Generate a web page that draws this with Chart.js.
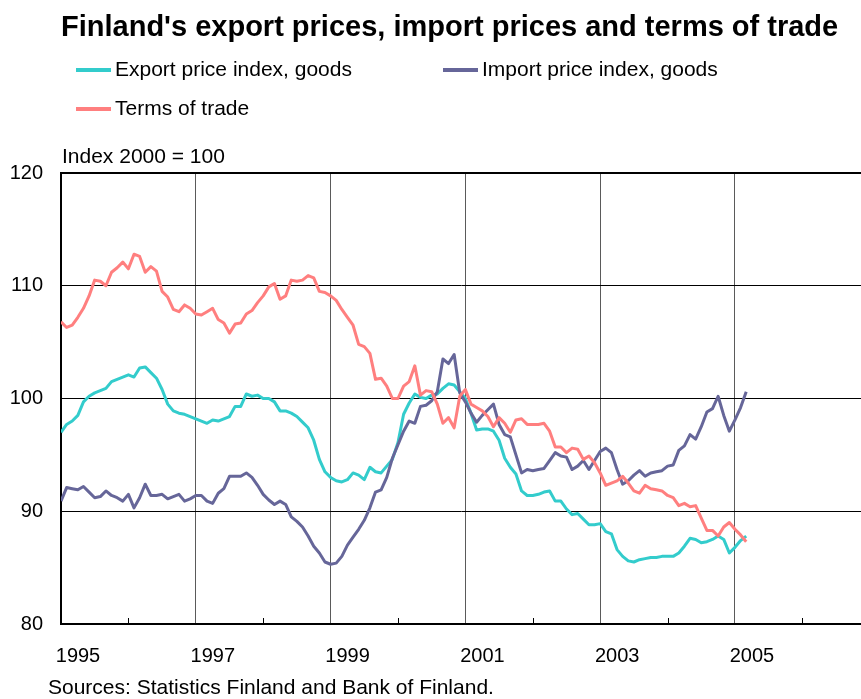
<!DOCTYPE html>
<html>
 <head>
  <meta charset="utf-8" />
  <title>Finland's export prices, import prices and terms of trade</title>
  <style>
   body { margin: 0; background: #fff; }
  </style>
 </head>
 <body>
  <canvas id="tradeChart" width="861" height="699"></canvas>

  <script src="https://cdn.jsdelivr.net/npm/chart.js@4/dist/chart.umd.min.js"></script>
  <script>

// monthly series, January 1995 .. March 2005, index 2000 = 100
const firstYear = 1995;

const exportPrices = [
  97.0, 97.7, 98.0, 98.5, 99.7, 100.2, 100.5, 100.7, 100.9, 101.5, 101.7, 101.9,
  102.1, 101.9, 102.7, 102.8, 102.3, 101.8, 100.8, 99.5, 98.9, 98.7, 98.6, 98.4,
  98.2, 98.0, 97.8, 98.1, 98.0, 98.2, 98.4, 99.3, 99.3, 100.4, 100.2, 100.3,
  100.0, 100.0, 99.7, 98.9, 98.9, 98.7, 98.4, 97.9, 97.4, 96.3, 94.6, 93.5,
  93.0, 92.7, 92.6, 92.8, 93.4, 93.2, 92.8, 93.9, 93.5, 93.4, 94.0, 94.6,
  96.1, 98.6, 99.6, 100.4, 100.1, 100.0, 100.3, 100.4, 100.9, 101.3, 101.2, 100.6,
  100.0, 98.7, 97.2, 97.3, 97.3, 97.1, 96.3, 94.7, 93.9, 93.3, 91.8, 91.4,
  91.4, 91.5, 91.7, 91.8, 90.9, 90.9, 90.2, 89.7, 89.8, 89.3, 88.8, 88.8,
  88.9, 88.2, 88.0, 86.6, 86.0, 85.6, 85.5, 85.7, 85.8, 85.9, 85.9, 86.0,
  86.0, 86.0, 86.3, 86.9, 87.6, 87.5, 87.2, 87.3, 87.5, 87.8, 87.5, 86.3,
  86.8, 87.4, 87.8
];

const importPrices = [
  90.9, 92.1, 92.0, 91.9, 92.2, 91.7, 91.2, 91.3, 91.8, 91.4, 91.2, 90.9,
  91.5, 90.3, 91.2, 92.4, 91.4, 91.4, 91.5, 91.1, 91.3, 91.5, 90.9, 91.1,
  91.4, 91.4, 90.9, 90.7, 91.6, 92.0, 93.1, 93.1, 93.1, 93.4, 93.0, 92.3,
  91.5, 91.0, 90.6, 90.9, 90.6, 89.5, 89.1, 88.6, 87.8, 86.9, 86.3, 85.5,
  85.3, 85.4, 86.0, 87.0, 87.7, 88.4, 89.2, 90.3, 91.7, 91.9, 93.0, 94.7,
  95.9, 97.1, 98.0, 97.8, 99.3, 99.4, 99.8, 100.6, 103.5, 103.1, 103.9, 100.5,
  99.7, 98.7, 97.9, 98.5, 99.0, 99.5, 97.7, 96.8, 96.6, 95.0, 93.4, 93.7,
  93.6, 93.7, 93.8, 94.5, 95.2, 94.9, 94.8, 93.7, 94.0, 94.5, 93.7, 94.5,
  95.3, 95.6, 95.2, 93.7, 92.4, 92.7, 93.2, 93.6, 93.1, 93.4, 93.5, 93.6,
  94.0, 94.1, 95.4, 95.8, 96.8, 96.4, 97.5, 98.8, 99.1, 100.2, 98.5, 97.1,
  98.1, 99.2, 100.6
];

const termsOfTrade = [
  106.8, 106.3, 106.5, 107.2, 108.0, 109.1, 110.5, 110.4, 110.0, 111.2, 111.6, 112.1,
  111.5, 112.8, 112.6, 111.2, 111.7, 111.3, 109.5, 109.0, 107.9, 107.7, 108.3, 108.0,
  107.5, 107.4, 107.7, 108.0, 107.0, 106.7, 105.8, 106.6, 106.7, 107.5, 107.8, 108.5,
  109.1, 109.9, 110.2, 108.8, 109.1, 110.5, 110.4, 110.5, 110.9, 110.7, 109.5, 109.4,
  109.1, 108.7, 107.9, 107.2, 106.5, 104.8, 104.6, 104.0, 101.7, 101.8, 101.1, 100.0,
  100.0, 101.1, 101.5, 102.9, 100.3, 100.7, 100.6, 99.5, 97.8, 98.3, 97.4, 100.2,
  100.8, 99.5, 99.2, 98.9, 98.4, 97.5, 98.3, 97.8, 97.0, 98.1, 98.2, 97.7,
  97.7, 97.7, 97.8, 97.1, 95.7, 95.7, 95.2, 95.6, 95.5, 94.6, 94.9, 94.3,
  93.4, 92.3, 92.5, 92.7, 93.1, 92.5, 91.8, 91.6, 92.3, 92.0, 91.9, 91.8,
  91.4, 91.2, 90.5, 90.7, 90.4, 90.5, 89.4, 88.3, 88.3, 87.8, 88.6, 89.0,
  88.4, 87.9, 87.3
];

const yearTicks = [1995, 1996, 1997, 1998, 1999, 2000, 2001, 2002, 2003, 2004, 2005, 2006];
const labelledYears = [1995, 1997, 1999, 2001, 2003, 2005];

const seriesNames = ['Export price index, goods', 'Import price index, goods', 'Terms of trade'];
const seriesColors = ['#33cccc', '#666699', '#ff7f7f'];

const titleText = "Finland's export prices, import prices and terms of trade";
const unitText = 'Index 2000 = 100';
const sourceText = 'Sources: Statistics Finland and Bank of Finland.';

const FONT = '"Liberation Sans", Arial, Helvetica, sans-serif';

function toPoints(values) {
  return values.map((v, i) => ({ x: firstYear + i / 12, y: v }));
}

// title, legend, unit, source and the short year ticks inside the plot
const decorations = {
  id: 'decorations',
  afterDraw(chart) {
    const ctx = chart.ctx;
    const area = chart.chartArea;
    const xs = chart.scales.x;
    ctx.save();

    ctx.strokeStyle = '#000';
    ctx.lineWidth = 1;
    yearTicks.filter(y => labelledYears.indexOf(y) < 0).forEach(y => {
      const px = Math.round(xs.getPixelForValue(y)) + 0.5;
      ctx.beginPath();
      ctx.moveTo(px, area.bottom);
      ctx.lineTo(px, area.bottom - 6);
      ctx.stroke();
    });

    ctx.fillStyle = '#000';
    ctx.textBaseline = 'middle';
    ctx.textAlign = 'left';

    ctx.font = 'bold 29px ' + FONT;
    ctx.fillText(titleText, 61, 28);

    const legendPos = [[76, 70], [443, 70], [76, 109]];
    ctx.font = '21px ' + FONT;
    seriesNames.forEach((name, i) => {
      const [lx, ly] = legendPos[i];
      ctx.strokeStyle = seriesColors[i];
      ctx.lineWidth = 4;
      ctx.beginPath();
      ctx.moveTo(lx, ly);
      ctx.lineTo(lx + 35, ly);
      ctx.stroke();
      ctx.fillStyle = '#000';
      ctx.fillText(name, lx + 39, ly);
    });

    ctx.fillText(unitText, 62, 157);
    ctx.fillText(sourceText, 48, 688);

    ctx.restore();
  }
};

const datasets = [exportPrices, importPrices, termsOfTrade].map((values, i) => ({
  label: seriesNames[i],
  data: toPoints(values),
  borderColor: seriesColors[i],
  backgroundColor: seriesColors[i],
  borderWidth: 3,
  borderJoinStyle: 'round',
  pointRadius: 0,
  tension: 0,
  fill: false,
  order: 3 - i
}));

new Chart(document.getElementById('tradeChart'), {
  type: 'line',
  data: { datasets: datasets },
  options: {
    responsive: false,
    animation: false,
    layout: { padding: { top: 173, right: 0, bottom: 0, left: 0 } },
    plugins: {
      legend: { display: false },
      tooltip: { enabled: false }
    },
    scales: {
      x: {
        type: 'linear',
        min: 1995,
        max: 2006.87,
        afterBuildTicks: scale => { scale.ticks = yearTicks.map(v => ({ value: v })); },
        afterFit: scale => { scale.height = 75; },
        ticks: {
          autoSkip: false,
          maxRotation: 0,
          padding: 20,
          labelOffset: 17,
          color: '#000',
          font: { family: FONT, size: 20 },
          callback: v => labelledYears.indexOf(v) >= 0 ? String(v) : ''
        },
        grid: {
          drawTicks: false,
          lineWidth: 1,
          color: c => (c.tick && labelledYears.indexOf(c.tick.value) > 0) ? '#5a5a5a' : 'rgba(0,0,0,0)'
        },
        border: { display: true, color: '#000', width: 2 }
      },
      y: {
        min: 80,
        max: 120,
        afterFit: scale => { scale.width = 61; },
        ticks: {
          stepSize: 10,
          padding: 18,
          color: '#000',
          font: { family: FONT, size: 20 }
        },
        grid: {
          drawTicks: false,
          color: '#000',
          lineWidth: c => (c.tick && c.tick.value === 120) ? 2 : 1
        },
        border: { display: true, color: '#000', width: 2 }
      }
    }
  },
  plugins: [decorations]
});

  </script>
 </body>
</html>
